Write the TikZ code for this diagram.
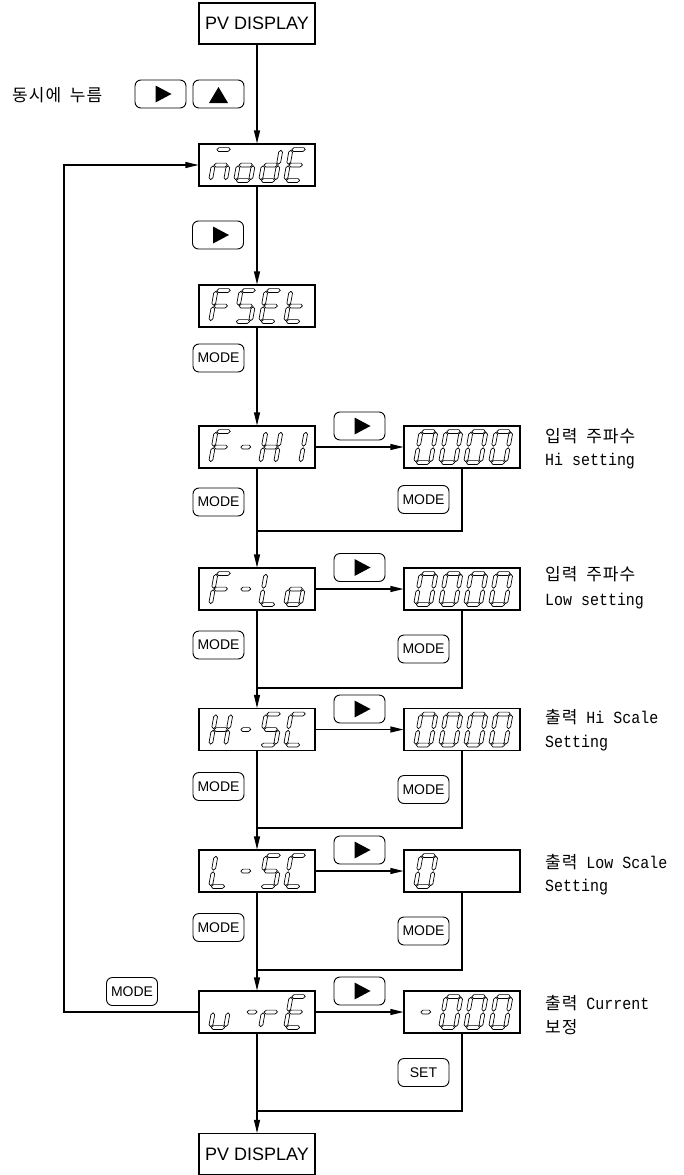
\documentclass[tikz,border=0pt]{standalone}
\usepackage{fontspec}
\setmainfont{Liberation Sans}
\newfontfamily\krfont[LetterSpace=6]{Noto Sans CJK KR}
\newfontfamily\monofont[FakeStretch=0.88]{Liberation Mono}
\usetikzlibrary{arrows.meta}
\newcommand\hsegm[3]{\draw[segline] (#1,#3) -- (#1+1.9,#3+1.9) -- (#2-1.9,#3+1.9) -- (#2,#3) -- (#2-1.9,#3-1.9) -- (#1+1.9,#3-1.9) -- cycle;}
\newcommand\vsegm[3]{\draw[segline] (#1,#2) -- (#1+1.9,#2+1.9) -- (#1+1.9,#3-1.9) -- (#1,#3) -- (#1-1.9,#3-1.9) -- (#1-1.9,#2+1.9) -- cycle;}
\newcommand\sgsa{\hsegm{0.8}{14.2}{31}}
\newcommand\sgsb{\vsegm{15}{16.3}{30.2}}
\newcommand\sgsc{\vsegm{15}{0.8}{14.7}}
\newcommand\sgsd{\hsegm{0.8}{14.2}{0}}
\newcommand\sgse{\vsegm{0}{0.8}{14.7}}
\newcommand\sgsf{\vsegm{0}{16.3}{30.2}}
\newcommand\sgsg{\hsegm{0.8}{14.2}{15.5}}
\newcommand\sgsm{\hsegm{2.5}{12.5}{15.5}}
% #1 box left, #2 cell index, #3 box centre y, #4 segments
\newcommand\dchar[4]{\begin{scope}[shift={(#1+11.5+25*#2,#3+15.5)}, x={(1pt,0pt)}, y={(0.18pt,1pt)}]\foreach \s in {#4}{\csname sgs\s\endcsname}\end{scope}}
\newcommand\playbtn[3]{\node[keybtn] (#1) at (#2,#3) {}; \fill ([shift={(-5,-8.5)}]#1.center) -- ++(0,17) -- ++(16,-8.5) -- cycle;}
\newcommand\upbtn[3]{\node[keybtn] (#1) at (#2,#3) {}; \fill ([shift={(-9.5,9)}]#1.center) -- ++(19,0) -- ++(-9.5,-16) -- cycle;}
\tikzset{
 dispbox/.style={draw, line width=1.1pt, minimum width=116pt, minimum height=42pt, inner sep=0pt},
 keybtn/.style={draw, line width=0.9pt, rounded corners=6pt, minimum width=51pt, minimum height=28pt, inner sep=0pt, font=\fontsize{14}{14}\selectfont},
 conn/.style={line width=1.1pt},
 arr/.style={conn, -{Triangle[length=13pt,width=6pt]}},
 segline/.style={line width=0.7pt, line join=round},
 ann/.style={anchor=base west, inner sep=0pt, font=\fontsize{17}{17}\selectfont},
}
\newcommand\mn[1]{{\fontsize{17}{17}\monofont #1}}
\newcommand\kr[1]{{\krfont #1}}
\begin{document}
\begin{tikzpicture}[x=1pt,y=-1pt]
\useasboundingbox (0,0) rectangle (684,1175);
% main column
\node[dispbox, minimum height=41pt, font=\fontsize{18}{18}\selectfont] (pv1) at (257,23.5) {PV DISPLAY};
\node[dispbox] (mode) at (257,165) {};
\node[dispbox] (fset) at (257,306) {};
\node[dispbox] (fhi) at (257,447) {};
\node[dispbox] (flo) at (257,589) {};
\node[dispbox] (hsc) at (257,729.5) {};
\node[dispbox] (lsc) at (257,871) {};
\node[dispbox] (ure) at (257,1012) {};
\node[dispbox, minimum height=41pt, font=\fontsize{18}{18}\selectfont] (pv2) at (257,1154) {PV DISPLAY};
% right column
\node[dispbox] (r1) at (462,447) {};
\node[dispbox] (r2) at (462,589) {};
\node[dispbox] (r3) at (462,729.5) {};
\node[dispbox] (r4) at (462,871) {};
\node[dispbox] (r5) at (462,1012) {};
% characters
\dchar{199}{0}{165}{a,c,e,g}\dchar{199}{1}{165}{c,d,e,g}\dchar{199}{2}{165}{b,c,d,e,g}\dchar{199}{3}{165}{a,d,e,f,g}
\dchar{199}{0}{306}{a,e,f,g}\dchar{199}{1}{306}{a,c,d,f,g}\dchar{199}{2}{306}{a,d,e,f,g}\dchar{199}{3}{306}{d,e,f,g}
\dchar{199}{0}{447}{a,e,f,g}\dchar{199}{1}{447}{m}\dchar{199}{2}{447}{b,c,e,f,g}\dchar{199}{3}{447}{b,c}
\dchar{199}{0}{589}{a,e,f,g}\dchar{199}{1}{589}{m}\dchar{199}{2}{589}{d,e,f}\dchar{199}{3}{589}{c,d,e,g}
\dchar{199}{0}{729.5}{b,c,e,f,g}\dchar{199}{1}{729.5}{m}\dchar{199}{2}{729.5}{a,c,d,f,g}\dchar{199}{3}{729.5}{a,d,e,f}
\dchar{199}{0}{871}{d,e,f}\dchar{199}{1}{871}{m}\dchar{199}{2}{871}{a,c,d,f,g}\dchar{199}{3}{871}{a,d,e,f}
\dchar{199}{0}{1012}{c,d,e}\dchar{199}{1.25}{1012}{m}\dchar{199}{2}{1012}{e,g}\dchar{199}{3}{1012}{a,d,e,f,g}
\foreach \yy in {447,589,729.5}{\foreach \k in {0,1,2,3}{\dchar{404}{\k}{\yy}{a,b,c,d,e,f}}}
\dchar{404}{0}{871}{a,b,c,d,e,f}
\dchar{404}{0}{1012}{m}\dchar{404}{1}{1012}{a,b,c,d,e,f}\dchar{404}{2}{1012}{a,b,c,d,e,f}\dchar{404}{3}{1012}{a,b,c,d,e,f}
% buttons
\playbtn{bp0}{160.5}{94}
\upbtn{bu0}{218.5}{94}
\playbtn{bp1}{218}{235}
\node[keybtn] (m0) at (218.5,358) {MODE};
\playbtn{bp2}{359.5}{426}
\playbtn{bp3}{359.5}{567.5}
\playbtn{bp4}{359.5}{709}
\playbtn{bp5}{359.5}{850}
\playbtn{bp6}{359.5}{991}
\node[keybtn] (ml1) at (218.5,502) {MODE};
\node[keybtn] (ml2) at (218.5,645) {MODE};
\node[keybtn] (ml3) at (218.5,786.5) {MODE};
\node[keybtn] (ml4) at (218.5,927.5) {MODE};
\node[keybtn] (mr1) at (423.5,499.5) {MODE};
\node[keybtn] (mr2) at (423.5,649) {MODE};
\node[keybtn] (mr3) at (423.5,789.5) {MODE};
\node[keybtn] (mr4) at (423.5,931) {MODE};
\node[keybtn] (set) at (423.5,1072.5) {SET};
\node[keybtn] (mloop) at (132,991.5) {MODE};
% texts
\node[ann] (t0) at (12,101) {\kr{동시에\hspace{4pt} 누름}};
\node[ann] (t1a) at (545,442) {\kr{입력\hspace{4pt} 주파수}};
\node[ann] (t1b) at (545,465.5) {\mn{Hi setting}};
\node[ann] (t2a) at (545,580) {\kr{입력\hspace{4pt} 주파수}};
\node[ann] (t2b) at (545,605.5) {\mn{Low setting}};
\node[ann] (t3a) at (545,723) {\kr{출력}\mn{ Hi Scale}};
\node[ann] (t3b) at (545,747.5) {\mn{Setting}};
\node[ann] (t4a) at (545,868) {\kr{출력}\mn{ Low Scale}};
\node[ann] (t4b) at (545,891.5) {\mn{Setting}};
\node[ann] (t5a) at (545,1009) {\kr{출력}\mn{ Current}};
\node[ann] (t5b) at (545,1033) {\kr{보정}};
% joins
\coordinate (j1) at (257,531);
\coordinate (j2) at (257,688);
\coordinate (j3) at (257,828);
\coordinate (j4) at (257,970);
\coordinate (j5) at (257,1111);
\coordinate (lp) at (64,1012);
% connectors
\draw[arr] (pv1) -- (mode);
\draw[arr] (mode) -- (fset);
\draw[arr] (fset) -- (fhi);
\draw[arr] (fhi) -- (flo);
\draw[arr] (flo) -- (hsc);
\draw[arr] (hsc) -- (lsc);
\draw[arr] (lsc) -- (ure);
\draw[arr] (ure) -- (pv2);
\draw[arr] (fhi) -- (r1);
\draw[arr] (flo) -- (r2);
\draw[arr] (hsc) -- (r3);
\draw[arr] (lsc) -- (r4);
\draw[arr] (ure) -- (r5);
\draw[conn] (r1.south) |- (j1);
\draw[conn] (r2.south) |- (j2);
\draw[conn] (r3.south) |- (j3);
\draw[conn] (r4.south) |- (j4);
\draw[conn] (r5.south) |- (j5);
\draw[arr] (ure.west) -- (lp) |- (mode.west);
\end{tikzpicture}
\end{document}
